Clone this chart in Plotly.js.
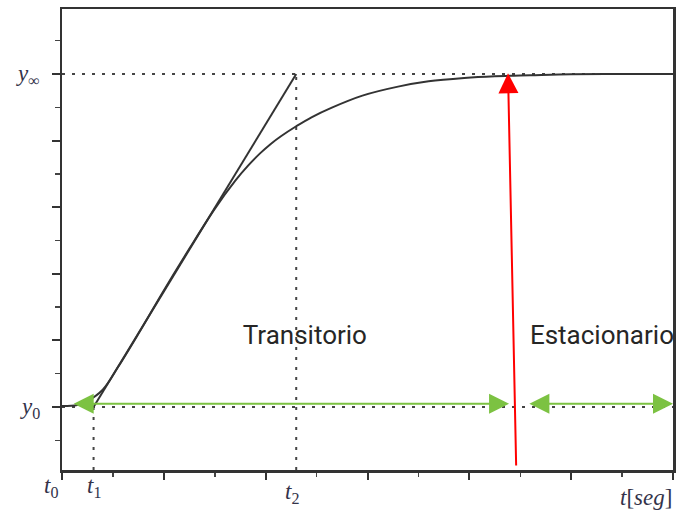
<!DOCTYPE html>
<html>
<head>
<meta charset="utf-8">
<script src="https://cdn.plot.ly/plotly-3.0.1.min.js"></script>
<style>
  html, body { margin: 0; padding: 0; background: #fff; }
  #chart { width: 677px; height: 515px; }
</style>
</head>
<body>
<div id="chart"></div>
<script>
// ---- values ----
const y0 = 0;
const yInf = 10;
const t1 = 0.62;
const t2 = 4.6;
const tEnd = 12;
const yBottom = -1.89;

// step response curve
const curveT = [0, 0.3, 0.5, 0.8, 1.1, 1.5, 2.0, 2.5, 3.0, 3.4, 3.65, 3.9, 4.1, 4.3, 4.6, 4.9, 5.3, 5.9, 6.6, 7.2, 7.9, 8.5, 9.2, 10.0, 11.0, 12.0];
const curveY = [0.03, 0.06, 0.18, 0.52, 1.2, 2.2, 3.5, 4.75, 5.95, 6.79, 7.24, 7.63, 7.9, 8.13, 8.43, 8.7, 8.99, 9.35, 9.62, 9.78, 9.88, 9.93, 9.96, 9.99, 10.0, 10.0];

// tangent at the inflection point
const tangentT = [t1, t2];
const tangentY = [y0, yInf];

// green double arrows (transient / steady-state spans)
const greenLevel = 0.1;
const transientSpan = [0.2, 8.78];
const steadySpan = [9.15, 12.0];

// red arrow (settling instant)
const redArrowT = [8.92, 8.76];   // tail, tip
const redArrowY = [-1.8, 10.02];

// axis labels
const yLabelVals = [y0, yInf];
const yLabelText = ['<i>y</i><sub>0</sub>', '<i>y</i><sub>∞</sub>'];
const xLabelVals = [0, t1, t2, tEnd];
const xLabelText = ['<i>t</i><sub>0</sub>', '<i>t</i><sub>1</sub>', '<i>t</i><sub>2</sub>', '<i>t</i>[<i>seg</i>]'];

// region labels
const regionText = ['Transitorio', 'Estacionario'];
const regionT = [4.77, 9.19];
const regionY = 2.1;

// ---- traces ----
const dotted = { color: '#444', width: 2, dash: '3px,7px' };
const regionFont = { family: 'Roboto, sans-serif', size: 26, color: '#262626' };
const traces = [
  { x: [0, tEnd], y: [yInf, yInf], mode: 'lines', line: dotted, hoverinfo: 'skip' },
  { x: [0, tEnd], y: [y0, y0], mode: 'lines', line: dotted, hoverinfo: 'skip' },
  { x: [t1, t1], y: [yBottom, y0], mode: 'lines', line: dotted, hoverinfo: 'skip' },
  { x: [t2, t2], y: [yBottom, yInf], mode: 'lines', line: dotted, hoverinfo: 'skip' },
  { x: tangentT, y: tangentY, mode: 'lines', line: { color: '#333', width: 2 } },
  { x: curveT, y: curveY, mode: 'lines', line: { color: '#333', width: 2, shape: 'spline', smoothing: 1 } },
  { x: [regionT[0]], y: [regionY], mode: 'text', text: [regionText[0]], textposition: 'middle center',
    textfont: regionFont, cliponaxis: true },
  { x: [regionT[1]], y: [regionY], mode: 'text', text: [regionText[1]], textposition: 'middle right',
    textfont: regionFont, cliponaxis: true }
];

// ---- annotations ----
const green = '#7cc242';
const annotations = [
  { x: transientSpan[1], y: greenLevel, ax: transientSpan[0], ay: greenLevel, xref: 'x', yref: 'y', axref: 'x', ayref: 'y',
    text: '', showarrow: true, arrowside: 'end+start', arrowhead: 2, startarrowhead: 2, arrowsize: 2, startarrowsize: 2,
    arrowwidth: 2, arrowcolor: green, standoff: 0, startstandoff: 0 },
  { x: steadySpan[1], y: greenLevel, ax: steadySpan[0], ay: greenLevel, xref: 'x', yref: 'y', axref: 'x', ayref: 'y',
    text: '', showarrow: true, arrowside: 'end+start', arrowhead: 2, startarrowhead: 2, arrowsize: 2, startarrowsize: 2,
    arrowwidth: 2, arrowcolor: green, standoff: 0, startstandoff: 0 },
  { x: redArrowT[1], y: redArrowY[1], ax: redArrowT[0], ay: redArrowY[0], xref: 'x', yref: 'y', axref: 'x', ayref: 'y',
    text: '', showarrow: true, arrowhead: 2, arrowsize: 2, arrowwidth: 2, arrowcolor: '#ff0000', standoff: 0 }
];
const labelFont = { family: 'Liberation Serif, DejaVu Serif, serif', size: 23, color: '#33334a' };
yLabelVals.forEach((v, i) => {
  annotations.push({ x: 0, y: v, xref: 'x', yref: 'y', text: yLabelText[i], showarrow: false,
    xanchor: 'right', yanchor: 'middle', xshift: -20, yshift: -1, font: labelFont });
});
const xShifts = [-2, 0, -4, 1];
const xAnch = ['right', 'center', 'center', 'right'];
const yShifts = [-17, -17, -23, -27];
xLabelVals.forEach((v, i) => {
  annotations.push({ x: v, y: yBottom, xref: 'x', yref: 'y', text: xLabelText[i], showarrow: false,
    xanchor: xAnch[i], yanchor: 'middle', xshift: xShifts[i], yshift: yShifts[i], font: labelFont });
});

const layout = {
  width: 677, height: 515,
  margin: { l: 62, r: 4, t: 9, b: 45 },
  paper_bgcolor: '#fff', plot_bgcolor: '#fff',
  showlegend: false,
  xaxis: {
    range: [0, tEnd], showgrid: false, zeroline: false,
    showline: true, mirror: true, linecolor: '#333', linewidth: 2.5,
    ticks: 'outside', tick0: 0, dtick: 2, ticklen: 7, tickwidth: 2, tickcolor: '#333',
    showticklabels: false,
    minor: { ticks: 'outside', dtick: 1, tick0: 0, ticklen: 4, tickwidth: 1.5, tickcolor: '#444' }
  },
  yaxis: {
    range: [yBottom, 11.95], showgrid: false, zeroline: false,
    showline: true, mirror: true, linecolor: '#333', linewidth: 2.5,
    ticks: 'outside', tick0: 0, dtick: 2, ticklen: 8, tickwidth: 2, tickcolor: '#333',
    showticklabels: false,
    minor: { ticks: 'outside', dtick: 1, tick0: 0, ticklen: 5, tickwidth: 1.5, tickcolor: '#444' }
  },
  annotations: annotations
};

Plotly.newPlot('chart', traces, layout, { displayModeBar: false, staticPlot: true });
</script>
</body>
</html>
